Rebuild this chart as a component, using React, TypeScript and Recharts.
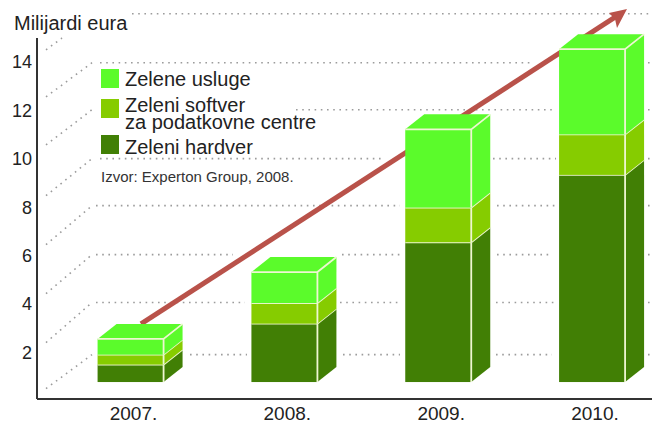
import { BarChart, Bar, XAxis, YAxis, ReferenceLine } from 'recharts';

const FONT = '"Liberation Sans", Arial, sans-serif';

const years = ['2007.', '2008.', '2009.', '2010.'];
const hardware = [0.72, 2.41, 5.77, 8.55];
const software = [0.41, 0.85, 1.43, 1.67];
const services = [0.65, 1.28, 3.23, 3.52];
const valueTicks = [2, 4, 6, 8, 10, 12, 14];

// back wall of the fake 3D box: one row per level, spans are where it is not hidden
const wallLevels = [15.9, 13.88, 11.94, 9.92, 7.98, 5.96, 3.98, 1.83];
const wallSpans = [
  [[132, 652]],
  [[100, 532], [648, 652]],
  [[296, 556], [648, 652]],
  [[100, 385], [493, 556], [648, 652]],
  [[96, 400], [497, 556], [648, 652]],
  [[96, 233], [342, 400], [497, 552], [648, 652]],
  [[96, 245], [340, 402], [496, 555], [648, 652]],
  [[190, 247], [343, 400], [496, 552], [648, 652]],
];
const floorStarts = [14.41, 12.47, 10.49, 8.39, 6.37, 4.35, 2.33, 0.43];

const trendStart = { x: 141, y: 3.1 };
const trendEnd = { x: 627, y: 16.1 };

const COLORS = { services: '#5bfb2b', software: '#86cc00', hardware: '#417f05' };
const EDGE = '#eef6d2';
const DEPTH_X = 19;
const DEPTH_Y = 15;

const chartData = years.map((year, i) => ({
  year,
  hardware: hardware[i],
  software: software[i],
  services: services[i],
}));

const legendItems = [
  { label: ['Zelene usluge'], color: COLORS.services, top: 69, textTop: 69 },
  { label: ['Zeleni softver', 'za podatkovne centre'], color: COLORS.software, top: 99, textTop: 97 },
  { label: ['Zeleni hardver'], color: COLORS.hardware, top: 135, textTop: 137 },
];

const makeBox = (fill: string, withTop: boolean) => (props: any) => {
  const { x, y, width, height } = props;
  const r = x + width;
  return (
    <g>
      <rect x={x} y={y} width={width} height={height} fill={fill} />
      <polygon
        points={`${r},${y} ${r + DEPTH_X},${y - DEPTH_Y} ${r + DEPTH_X},${y + height - DEPTH_Y} ${r},${y + height}`}
        fill={fill}
      />
      {withTop && (
        <polygon
          points={`${x},${y} ${x + DEPTH_X},${y - DEPTH_Y} ${r + DEPTH_X},${y - DEPTH_Y} ${r},${y}`}
          fill={fill}
        />
      )}
      <path
        d={`M${x},${y} H${r} L${r + DEPTH_X},${y - DEPTH_Y} M${r},${y} V${y + height}`}
        stroke={EDGE}
        strokeWidth={1.8}
        fill="none"
      />
    </g>
  );
};

const TrendArrow = (props: any) => {
  const { x1, y1, x2, y2 } = props;
  return (
    <g>
      <line x1={x1} y1={y1} x2={x2 - 10} y2={y2 + 7} stroke="#b9524a" strokeWidth={5} />
      <polygon
        points={`${x2},${y2} ${x2 - 18},${y2 + 4} ${x2 - 12},${y2 + 10} ${x2 - 10},${y2 + 19}`}
        fill="#b9524a"
      />
    </g>
  );
};

const dotted = { stroke: '#9c9c9c', strokeWidth: 1.6, strokeDasharray: '1.6 4.6' };

export default function App() {
  return (
    <div style={{ position: 'absolute', left: 0, top: 0, width: 656, height: 426, background: '#fff', fontFamily: FONT }}>
      <BarChart
        width={656}
        height={426}
        data={chartData}
        margin={{ top: 38, right: 4, bottom: 0, left: 0 }}
        barSize={66}
        style={{ overflow: 'visible' }}
      >
        <XAxis xAxisId="px" dataKey="px" type="number" domain={[37, 652]} allowDataOverflow height={0} hide />
        <XAxis
          xAxisId="year"
          dataKey="year"
          scale="point"
          padding={{ left: 93.5, right: 60 }}
          height={27}
          tickLine={false}
          axisLine={{ stroke: '#333', strokeWidth: 2 }}
          tick={{ fill: '#222', fontSize: 19, fontFamily: FONT, dx: 3 }}
          tickSize={0}
          tickMargin={8}
          interval={0}
        />
        <YAxis yAxisId="bars" domain={[-0.7, 14.2]} width={0} hide />
        <YAxis
          yAxisId="value"
          width={37}
          domain={[0, 14.9]}
          allowDataOverflow
          ticks={valueTicks}
          interval={0}
          tickLine={false}
          axisLine={{ stroke: '#333', strokeWidth: 2 }}
          tick={{ fill: '#222', fontSize: 18, fontFamily: FONT, dy: 2 }}
          tickSize={0}
          tickMargin={5}
        />

        {wallLevels.map((level, i) => (
          <ReferenceLine
            key={`floor-${i}`}
            xAxisId="px"
            yAxisId="value"
            ifOverflow="visible"
            zIndex={10}
            segment={[
              { x: 46, y: floorStarts[i] },
              i === 0 ? { x: 62, y: 14.9 } : { x: 92, y: level },
            ]}
            {...dotted}
          />
        ))}
        {wallLevels.map((level, i) =>
          wallSpans[i].map(([from, to]) => (
            <ReferenceLine
              key={`wall-${i}-${from}`}
              xAxisId="px"
              yAxisId="value"
              ifOverflow="visible"
              zIndex={10}
              segment={[
                { x: from, y: level },
                { x: to, y: level },
              ]}
              {...dotted}
            />
          )),
        )}
        <ReferenceLine
          xAxisId="px"
          yAxisId="value"
          ifOverflow="visible"
          zIndex={20}
          segment={[trendStart, trendEnd]}
          shape={TrendArrow}
        />

        <Bar xAxisId="year" yAxisId="bars" dataKey="hardware" stackId="a" isAnimationActive={false} zIndex={300} shape={makeBox(COLORS.hardware, false)} />
        <Bar xAxisId="year" yAxisId="bars" dataKey="software" stackId="a" isAnimationActive={false} zIndex={300} shape={makeBox(COLORS.software, false)} />
        <Bar xAxisId="year" yAxisId="bars" dataKey="services" stackId="a" isAnimationActive={false} zIndex={300} shape={makeBox(COLORS.services, true)} />
      </BarChart>

      <div style={{ position: 'absolute', left: 14, top: 12, fontSize: 20, color: '#222', whiteSpace: 'nowrap' }}>Milijardi eura</div>
      {legendItems.map((item) => (
        <div key={item.label[0]}>
          <div style={{ position: 'absolute', left: 101, top: item.top, width: 18, height: 19, background: item.color }} />
          <div style={{ position: 'absolute', left: 125, top: item.textTop, fontSize: 20, lineHeight: item.label.length > 1 ? '17px' : '20px', color: '#222', whiteSpace: 'nowrap' }}>
            {item.label.map((line) => (
              <div key={line}>{line}</div>
            ))}
          </div>
        </div>
      ))}
      <div style={{ position: 'absolute', left: 101, top: 168, fontSize: 15, color: '#333', whiteSpace: 'nowrap' }}>
        Izvor: Experton Group, 2008.
      </div>
    </div>
  );
}
